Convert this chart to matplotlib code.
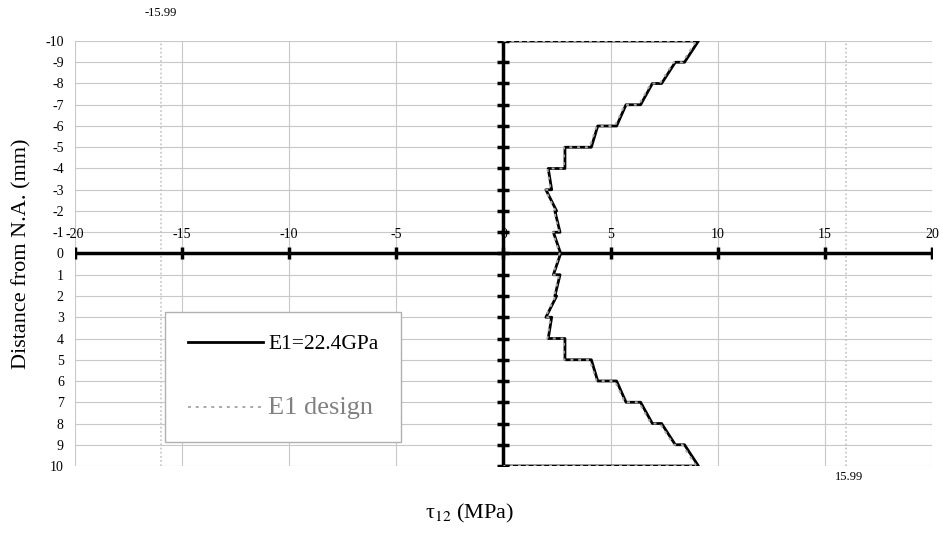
import matplotlib
matplotlib.use("Agg")
import matplotlib.pyplot as plt

plt.rcParams["font.family"] = ["Liberation Serif", "DejaVu Serif"]
plt.rcParams["mathtext.fontset"] = "stix"

# Data (step profile through the thickness)
depth = [-10, -10, -9, -9, -8, -8, -7, -7, -6, -6, -5, -5, -4, -4, -3, -3,
         -2, -2, -1, -1, 0, 1, 1, 2, 2, 3, 3, 4, 4, 5, 5, 6, 6, 7, 7, 8, 8,
         9, 9, 10, 10]
tau_e1 = [0, 9.1, 8.45, 8.02, 7.38, 6.95, 6.4, 5.72, 5.28, 4.4, 4.1, 2.87,
          2.87, 2.09, 2.25, 1.98, 2.48, 2.4, 2.64, 2.33, 2.67, 2.33, 2.64,
          2.4, 2.48, 1.98, 2.25, 2.09, 2.87, 2.87, 4.1, 4.4, 5.28, 5.72,
          6.4, 6.95, 7.38, 8.02, 8.45, 9.1, 0]
tau_design = [0, 9.0, 8.35, 7.95, 7.3, 6.88, 6.32, 5.66, 5.2, 4.35, 4.02,
              2.82, 2.82, 2.05, 2.2, 1.95, 2.43, 2.36, 2.6, 2.3, 2.62, 2.3,
              2.6, 2.36, 2.43, 1.95, 2.2, 2.05, 2.82, 2.82, 4.02, 4.35, 5.2,
              5.66, 6.32, 6.88, 7.3, 7.95, 8.35, 9.0, 0]

x_ticks = [-20, -15, -10, -5, 0, 5, 10, 15, 20]
y_ticks = list(range(-10, 11))
limit = 15.99

fig = plt.figure(figsize=(9.43, 5.43), dpi=100)
ax = fig.add_axes([0.0795, 0.1418, 0.9088, 0.7827])
ax.set_xlim(-20, 20)
ax.set_ylim(10, -10)

# grid
for y in y_ticks:
    ax.axhline(y, color="#c8c8c8", lw=0.8, zorder=0)
for x in x_ticks:
    ax.axvline(x, color="#c8c8c8", lw=0.8, zorder=0)
for x in (-limit, limit):
    ax.axvline(x, color="#c4c4c4", lw=1.2, ls=(0, (1, 1.5)), zorder=0)

for s in ax.spines.values():
    s.set_visible(False)

# axes through origin
ax.plot([0, 0], [-10, 10], color="black", lw=2.5, zorder=3)
ax.plot([-20, 20], [0, 0], color="black", lw=2.5, zorder=3)
ax.plot([0] * len(y_ticks), y_ticks, ls="none", marker="_", ms=9, mew=2.5,
        color="black", zorder=3)
ax.plot(x_ticks, [0] * len(x_ticks), ls="none", marker="|", ms=9, mew=2.5,
        color="black", zorder=3)

ax.set_yticks(y_ticks)
ax.set_yticklabels([str(y) for y in y_ticks], fontsize=10)
ax.tick_params(axis="y", length=0, pad=8)
ax.set_xticks([])
for x in x_ticks:
    ax.text(x, -0.6, str(x), ha="center", va="bottom", fontsize=10)

# curves
l1, = ax.plot(tau_e1, depth, color="black", lw=2, zorder=4,
              label="E1=22.4GPa")
l2, = ax.plot(tau_design, depth, color="#a8a8a8", lw=1.4,
              ls=(0, (1.5, 2.5)), zorder=5, label="E1 design")

ax.text(-limit, -11.3, "-15.99", ha="center", va="center", fontsize=9,
        clip_on=False)
ax.text(limit + 0.15, 10.5, "15.99", ha="center", va="center", fontsize=9,
        clip_on=False)

ax.set_ylabel("Distance from N.A. (mm)", fontsize=16, labelpad=10)
fig.text(0.498, 0.055, "τ$_{12}$ (MPa)", ha="center", va="center",
         fontsize=16)

leg = ax.legend(handles=[l1, l2], loc="lower left",
                bbox_to_anchor=(0.105, 0.0565), borderaxespad=0,
                fancybox=False, framealpha=1, edgecolor="#b0b0b0",
                handlelength=3.5, handletextpad=0.25, labelspacing=2.0,
                borderpad=1.05, fontsize=15.5)
leg.get_frame().set_linewidth(1.0)
leg.set_zorder(6)
leg.get_texts()[1].set_fontsize(19)
leg.get_texts()[1].set_color("#808080")

fig.savefig("out.png", dpi=100)
